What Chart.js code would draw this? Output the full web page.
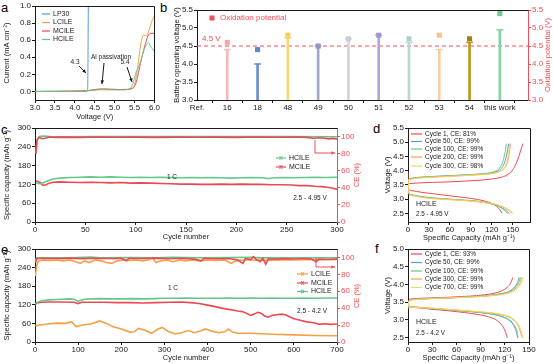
<!DOCTYPE html>
<html>
<head>
<meta charset="utf-8">
<script src="https://cdn.jsdelivr.net/npm/chart.js@4.4.1/dist/chart.umd.min.js"></script>
<style>
  html, body { margin: 0; padding: 0; background: #fff; }
  body { position: relative; width: 553px; height: 364px; overflow: hidden; font-family: "Liberation Sans", Arial, sans-serif; }
  canvas { position: absolute; }
  .panel { position: absolute; font-size: 13px; line-height: 13px; color: #000; }
</style>
</head>
<body>
<div class="panel" style="left:1px;top:1px">a</div>
<div class="panel" style="left:160px;top:1px">b</div>
<div class="panel" style="left:1px;top:123px">c</div>
<div class="panel" style="left:373px;top:122px">d</div>
<div class="panel" style="left:1px;top:243px">e</div>
<div class="panel" style="left:375px;top:242px">f</div>
<canvas id="chartA"></canvas>
<canvas id="chartB"></canvas>
<canvas id="chartC"></canvas>
<canvas id="chartD"></canvas>
<canvas id="chartE"></canvas>
<canvas id="chartF"></canvas>
<script>
// ---------- data: a (LSV, voltage V vs current mA cm-2) ----------
const lsvLP30 = [[3.0,0],[3.5,0.001],[4.0,0.002],[4.25,0.005],[4.32,0.012],[4.33,0.3],[4.34,1.1]];
const lsvLCILE = [[3.0,0],[3.5,0.001],[4.0,0.003],[4.3,0.008],[4.45,0.02],[4.6,0.028],[4.75,0.03],[4.9,0.026],[5.1,0.022],[5.3,0.025],[5.42,0.035],[5.5,0.08],[5.55,0.2],[5.6,0.36],[5.65,0.53],[5.7,0.64],[5.75,0.66],[5.8,0.65],[5.85,0.7],[5.9,0.77],[5.95,0.84],[6.0,0.88]];
const lsvMCILE = [[3.0,0],[4.0,0.003],[4.3,0.008],[4.5,0.02],[4.7,0.028],[4.9,0.025],[5.2,0.022],[5.42,0.03],[5.5,0.06],[5.55,0.12],[5.6,0.22],[5.65,0.33],[5.7,0.43],[5.75,0.52],[5.8,0.6],[5.85,0.66],[5.9,0.68],[6.0,0.68]];
const lsvHCILE = [[3.0,0],[4.0,0.002],[4.3,0.006],[4.5,0.015],[4.7,0.02],[4.9,0.018],[5.2,0.018],[5.38,0.03],[5.45,0.08],[5.5,0.16],[5.55,0.24],[5.6,0.28],[5.65,0.35],[5.7,0.43],[5.75,0.5],[5.8,0.55],[5.85,0.57],[5.9,0.53],[5.95,0.5],[6.0,0.47]];

// ---------- data: b (literature comparison) ----------
const refLabels = ['Ref.', '16', '18', '48', '49', '50', '51', '52', '53', '54', 'this work'];
const operatingVoltage = [4.4, 4.0, 4.72, 4.5, 4.7, 4.8, 4.6, 4.4, 4.6, 4.95];
const oxidationPotential = [4.6, 4.4, 4.8, 4.5, 4.7, 4.8, 4.7, 4.8, 4.7, 5.4];
const thresholdV = 4.5;
const stemColors = ['#f6b9bb', '#6a8fca', '#f7d673', '#a2a4cc', '#d4d4dd', '#aca8dc', '#bcd6d4', '#f9cca2', '#b9971f', '#86d4a6'];
const squareColors = ['#f3a9ac', '#5f87c7', '#f3cf55', '#9093c3', '#cdcdd6', '#9e9ad7', '#aecfcc', '#f8c08b', '#9f820e', '#6dcb95'];

// ---------- data: c (1 C, 2.5-4.95 V) ----------
const cCapHCILE = [[1,125],[3,123],[6,122],[9,126],[13,132],[18,137],[25,140],[35,142],[45,143],[55,144],[65,143],[75,144],[85,143],[95,142],[105,143],[115,142],[125,143],[135,142],[145,141],[155,142],[165,141],[175,142],[185,141],[195,140],[205,141],[215,142],[225,141],[232,139],[238,141],[248,142],[258,141],[268,142],[278,143],[288,142],[300,143]];
const cCapMCILE = [[1,131],[3,129],[5,126],[8,117],[11,119],[14,124],[18,127],[25,128],[35,127],[45,126],[55,127],[65,126],[75,125],[85,126],[95,124],[105,125],[115,124],[125,123],[135,122],[145,121],[155,121],[165,120],[175,120],[185,121],[195,120],[205,121],[215,120],[225,120],[235,119],[245,119],[255,118],[262,116],[270,116],[278,114],[285,113],[292,110],[297,107],[300,104]];
const cCeHCILE = [[1,81],[2,96],[4,100],[8,100.5],[15,100],[30,99.8],[60,100],[100,99.9],[150,100],[200,99.9],[250,100],[300,99.8]];
const cCeMCILE = [[1,80],[2,96],[4,99],[7,97.5],[10,98],[14,99.5],[20,99],[30,99.3],[45,99],[60,99.4],[80,99.1],[100,99.3],[120,99],[140,99.3],[160,99.1],[180,99.3],[200,99],[220,99.4],[240,99.2],[260,99.4],[270,99],[276,98],[282,98.6],[288,98],[292,97.3],[296,97.8],[300,97]];

// ---------- data: d (HCILE, 2.5-4.95 V voltage profiles) ----------
const dCycles = ['Cycle 1, CE: 81%', 'Cycle 50, CE: 99%', 'Cycle 100, CE: 99%', 'Cycle 200, CE: 99%', 'Cycle 300, CE: 98%'];
const dCharge = [
  [[0,3.4],[0.5,3.52],[3,3.55],[15,3.57],[35,3.59],[60,3.61],[85,3.64],[105,3.67],[120,3.71],[132,3.76],[142,3.85],[149,3.99],[154,4.2],[159,4.5],[162,4.75],[165,4.95]],
  [[0,3.3],[0.5,3.65],[3,3.72],[15,3.76],[35,3.79],[60,3.82],[85,3.85],[105,3.88],[120,3.92],[128,3.98],[134,4.08],[138,4.25],[141,4.5],[143,4.75],[144.5,4.95]],
  [[0,3.3],[0.5,3.66],[3,3.73],[15,3.77],[35,3.8],[60,3.83],[85,3.86],[105,3.89],[118,3.93],[126,3.99],[131,4.08],[135,4.25],[138,4.5],[140,4.75],[141,4.95]],
  [[0,3.3],[0.5,3.64],[3,3.71],[15,3.75],[35,3.78],[60,3.81],[85,3.84],[105,3.87],[122,3.91],[131,3.97],[138,4.08],[142,4.25],[144.5,4.5],[146,4.75],[147,4.95]],
  [[0,3.3],[0.5,3.63],[3,3.7],[15,3.74],[35,3.77],[60,3.8],[85,3.83],[105,3.86],[121,3.9],[130,3.96],[137,4.07],[141,4.25],[143.5,4.5],[145,4.75],[146,4.95]]
];
const dDischarge = [
  [[0,3.95],[0.5,3.38],[5,3.3],[20,3.24],[40,3.18],[60,3.12],[80,3.06],[100,2.99],[115,2.9],[124,2.8],[130,2.68],[133,2.58],[135,2.5]],
  [[0,3.6],[0.5,3.26],[5,3.15],[20,3.08],[40,3.03],[60,3.0],[80,2.96],[100,2.92],[115,2.86],[127,2.78],[136,2.68],[141,2.6],[145,2.5]],
  [[0,3.6],[0.5,3.27],[5,3.16],[20,3.09],[40,3.04],[60,3.0],[80,2.97],[100,2.93],[114,2.87],[126,2.79],[134,2.69],[139,2.6],[143,2.5]],
  [[0,3.6],[0.5,3.25],[5,3.14],[20,3.07],[40,3.02],[60,2.99],[80,2.96],[100,2.92],[118,2.86],[131,2.78],[140,2.68],[145,2.6],[149,2.5]],
  [[0,3.6],[0.5,3.24],[5,3.13],[20,3.06],[40,3.01],[60,2.98],[80,2.95],[100,2.91],[119,2.85],[133,2.77],[142,2.67],[147,2.59],[151,2.5]]
];

// ---------- data: e (1 C, 2.5-4.2 V) ----------
const eCapLCILE = [[1,52],[10,55],[30,58],[50,61],[70,60],[85,65],[95,50],[110,55],[130,58],[150,68],[165,60],[180,50],[200,42],[220,32],[230,33],[240,44],[255,38],[270,28],[285,42],[295,47],[310,33],[325,26],[340,30],[355,37],[370,30],[385,36],[395,42],[410,35],[425,30],[440,33],[448,42],[458,32],[470,28],[500,28],[550,25],[600,23],[650,21],[700,20]];
const eCapMCILE = [[1,122],[5,126],[15,128],[30,129],[60,129],[90,128],[100,124],[108,128],[130,128],[160,128],[190,127],[220,127],[250,126],[280,127],[310,128],[340,129],[360,127],[380,124],[400,119],[415,115],[430,110],[445,106],[458,103],[470,100],[480,98],[490,93],[500,86],[508,90],[516,96],[524,93],[532,84],[540,80],[550,86],[560,88],[572,90],[582,87],[592,80],[602,74],[615,70],[630,65],[645,62],[660,57],[672,59],[685,57],[700,58]];
const eCapHCILE = [[1,122],[4,127],[10,131],[20,134],[35,136],[50,137],[65,138],[80,139],[92,137],[100,131],[106,135],[115,138],[130,139],[150,140],[175,139],[200,139],[225,140],[250,139],[275,140],[300,141],[325,141],[350,142],[375,141],[400,141],[425,141],[450,142],[475,141],[500,142],[525,141],[550,142],[575,141],[600,141],[625,142],[650,141],[675,142],[700,142]];
const eCeLCILE = [[1,78],[3,88],[6,94],[10,96],[20,97],[35,96.5],[50,97],[65,96],[80,97],[95,95],[105,93],[115,96],[125,94],[140,97],[155,96],[165,94],[178,93],[190,96],[205,97],[220,96.5],[235,97],[250,96],[262,97],[272,100],[280,94],[292,96],[305,97],[320,95],[335,97],[350,96],[365,97],[380,96],[400,97],[420,96.5],[440,97],[455,93],[465,96],[480,97],[500,97],[530,96.5],[560,97],[600,97],[650,97.5],[700,97.5]];
const eCeMCILE = [[1,94],[4,98.5],[20,99],[50,98.8],[80,99.2],[110,98.6],[140,99],[170,98.8],[200,99],[212,96],[218,99],[250,98.8],[280,99.2],[310,98.5],[340,99],[370,98],[385,96],[392,99],[420,98.5],[450,98.8],[470,97],[482,93],[488,98.5],[500,97.5],[506,101],[512,98],[522,95],[528,99],[535,92],[541,98.5],[560,98],[580,98.6],[600,98.2],[620,98.8],[640,98],[652,95],[658,98],[675,97.5],[700,98]];
const eCeHCILE = [[1,96],[4,99.5],[30,99.7],[80,99.5],[130,100.5],[150,99.6],[220,99.8],[280,99.5],[320,100.3],[380,99.6],[450,99.8],[500,100.2],[520,99.5],[580,99.7],[640,99.5],[700,99.7]];

// ---------- data: f (HCILE, 2.5-4.2 V voltage profiles) ----------
const fCycles = ['Cycle 1, CE: 93%', 'Cycle 50, CE: 99%', 'Cycle 100, CE: 99%', 'Cycle 300, CE: 99%', 'Cycle 700, CE: 99%'];
const fCharge = [
  [[0,3.3],[0.5,3.52],[2,3.58],[8,3.6],[25,3.62],[50,3.64],[75,3.67],[95,3.71],[108,3.76],[117,3.83],[123,3.92],[127,4.03],[130,4.2]],
  [[0,3.35],[0.5,3.5],[2,3.56],[8,3.58],[25,3.6],[50,3.62],[75,3.65],[100,3.69],[115,3.74],[125,3.8],[131,3.9],[135,4.02],[138,4.2]],
  [[0,3.35],[0.5,3.49],[2,3.55],[8,3.58],[25,3.6],[50,3.62],[75,3.65],[100,3.69],[116,3.74],[126,3.8],[132,3.9],[136.5,4.02],[139.5,4.2]],
  [[0,3.36],[0.5,3.48],[2,3.55],[8,3.58],[25,3.6],[50,3.62],[75,3.65],[100,3.68],[118,3.73],[128,3.8],[134,3.9],[138.5,4.02],[141,4.2]],
  [[0,3.38],[0.5,3.48],[2,3.54],[8,3.57],[25,3.6],[50,3.62],[75,3.64],[100,3.68],[120,3.73],[130,3.8],[136,3.9],[140.5,4.02],[143,4.2]]
];
const fDischarge = [
  [[0,3.42],[2,3.37],[10,3.35],[30,3.3],[50,3.26],[70,3.21],[88,3.15],[100,3.09],[108,3.02],[114,2.92],[118,2.8],[121,2.65],[123,2.5]],
  [[0,3.45],[2,3.38],[10,3.36],[30,3.32],[55,3.28],[80,3.23],[100,3.18],[113,3.12],[122,3.04],[128,2.94],[132,2.8],[134.5,2.65],[136,2.5]],
  [[0,3.44],[2,3.38],[10,3.36],[30,3.32],[55,3.28],[80,3.23],[100,3.18],[114,3.12],[123,3.04],[129,2.94],[133,2.8],[135.5,2.65],[136.5,2.5]],
  [[0,3.42],[2,3.38],[10,3.36],[30,3.33],[55,3.29],[80,3.24],[100,3.2],[117,3.14],[127,3.06],[133,2.95],[137,2.82],[139.5,2.66],[141.5,2.5]],
  [[0,3.4],[2,3.37],[10,3.35],[30,3.33],[55,3.29],[80,3.25],[100,3.21],[118,3.15],[128,3.07],[134,2.96],[138,2.83],[140.5,2.67],[142.5,2.5]]
];

// ---------- colours ----------
const RED_AXIS = '#ee4f58';
const cBlue = '#5b9bd5', cOrange = '#f5a047', cRed = '#ec4a52', cGreen = '#63c98b', cYellow = '#f5d565';
const profileColors = [cRed, cBlue, cGreen, cOrange, cYellow];

// ---------- helpers ----------
Chart.defaults.font.family = "'Liberation Sans', Arial, sans-serif";
Chart.defaults.font.size = 8;
Chart.defaults.color = '#1a1a1a';
Chart.defaults.animation = false;
Chart.defaults.plugins.legend.display = false;
Chart.defaults.plugins.tooltip.enabled = false;
Chart.defaults.elements.point.radius = 0;

const pts = arr => arr.map(([x, y]) => ({x, y}));

function place(id, cx, cy, cw, ch, area) {
  const c = document.getElementById(id);
  c.width = cw; c.height = ch;
  c.style.left = cx + 'px'; c.style.top = cy + 'px';
  return {
    canvas: c, origin: [cx, cy],
    padding: {top: area.top - cy, left: 0, bottom: 0, right: area.rightAxis ? 0 : cx + cw - area.right},
    leftW: area.left - cx,
    rightW: cx + cw - area.right,
    bottomH: cy + ch - area.bottom
  };
}

function axis(pos, min, max, ticks, size, o = {}) {
  const col = o.color || '#1a1a1a';
  const horiz = pos === 'bottom' || pos === 'top';
  return {
    type: 'linear', position: pos, min, max, offset: false,
    afterBuildTicks: s => { s.ticks = ticks.map(value => ({value})); },
    afterFit: s => { if (horiz) s.height = size; else s.width = size; },
    grid: {drawOnChartArea: false, drawTicks: true, tickLength: 3, color: col, lineWidth: 1},
    border: {color: col, width: 1},
    ticks: {color: col, font: {size: 8}, padding: o.pad ?? 1, autoSkip: false, maxRotation: 0, minRotation: 0,
            callback: o.fmt || (v => v)},
    title: o.title ? {display: true, text: o.title, color: col, font: {size: 7.5},
                      padding: {top: o.tp || 0, bottom: o.tp || 0}} : {display: false}
  };
}

function curve(label, arr, color, extra) {
  return Object.assign({type: 'line', label, data: pts(arr), borderColor: color, backgroundColor: color,
    borderWidth: 1, pointRadius: 0, fill: false, cubicInterpolationMode: 'monotone'}, extra || {});
}

function framePlugin(withRight) {
  return {
    id: 'frame',
    afterDatasetsDraw(chart) {
      const {ctx, chartArea: a} = chart;
      ctx.save();
      ctx.strokeStyle = '#1a1a1a'; ctx.lineWidth = 1;
      ctx.beginPath();
      const t = Math.round(a.top) + 0.5, r = Math.round(a.right) + 0.5;
      ctx.moveTo(Math.round(a.left), t); ctx.lineTo(r, t);
      if (withRight) ctx.lineTo(r, Math.round(a.bottom));
      ctx.stroke();
      ctx.restore();
    }
  };
}

function drawArrow(ctx, path, color, w) {
  ctx.strokeStyle = color; ctx.fillStyle = color; ctx.lineWidth = w || 1;
  ctx.beginPath();
  path.forEach(([x, y], i) => i ? ctx.lineTo(x, y) : ctx.moveTo(x, y));
  const [x1, y1] = path[path.length - 2], [x2, y2] = path[path.length - 1];
  const ang = Math.atan2(y2 - y1, x2 - x1);
  ctx.stroke();
  ctx.beginPath();
  ctx.moveTo(x2, y2);
  ctx.lineTo(x2 - 4 * Math.cos(ang - 0.45), y2 - 4 * Math.sin(ang - 0.45));
  ctx.lineTo(x2 - 4 * Math.cos(ang + 0.45), y2 - 4 * Math.sin(ang + 0.45));
  ctx.closePath(); ctx.fill();
}

function notesPlugin(origin, items) {
  return {
    id: 'notes',
    afterDraw(chart) {
      const ctx = chart.ctx;
      ctx.save();
      ctx.translate(-origin[0], -origin[1]);
      items.forEach(it => {
        if (it.t === 'text') {
          ctx.save();
          ctx.font = (it.size || 7) + "px 'Liberation Sans', Arial, sans-serif";
          ctx.fillStyle = it.color || '#1a1a1a';
          ctx.textAlign = it.align || 'left'; ctx.textBaseline = 'middle';
          ctx.translate(it.x, it.y);
          if (it.rot) ctx.rotate(it.rot);
          ctx.fillText(it.text, 0, 0);
          ctx.restore();
        } else if (it.t === 'arrow') {
          drawArrow(ctx, it.path, it.color || '#1a1a1a', it.w);
        } else if (it.t === 'key') {
          ctx.strokeStyle = it.color; ctx.lineWidth = it.w || 1.2;
          ctx.beginPath(); ctx.moveTo(it.x1, it.y); ctx.lineTo(it.x2, it.y); ctx.stroke();
          if (it.mark) {
            const m = (it.x1 + it.x2) / 2;
            ctx.beginPath(); ctx.moveTo(m - 1.5, it.y - 1.5); ctx.lineTo(m + 1.5, it.y + 1.5);
            ctx.moveTo(m - 1.5, it.y + 1.5); ctx.lineTo(m + 1.5, it.y - 1.5); ctx.stroke();
          }
          ctx.font = (it.size || 7) + "px 'Liberation Sans', Arial, sans-serif";
          ctx.fillStyle = '#1a1a1a'; ctx.textAlign = 'left'; ctx.textBaseline = 'middle';
          ctx.fillText(it.text, it.x2 + 3, it.y);
        } else if (it.t === 'square') {
          ctx.fillStyle = it.color;
          ctx.fillRect(it.x - it.s / 2, it.y - it.s / 2, it.s, it.s);
        }
      });
      ctx.restore();
    }
  };
}

const baseOpts = {responsive: false, maintainAspectRatio: false, devicePixelRatio: 1};
const fmt1 = v => v.toFixed(1);

// ---------- a ----------
const A = place('chartA', 0, 0, 160, 122, {left: 35, right: 155, top: 6, bottom: 100});
new Chart(A.canvas, {
  type: 'line',
  data: {datasets: [
    curve('HCILE', lsvHCILE, cGreen),
    curve('MCILE', lsvMCILE, cRed),
    curve('LCILE', lsvLCILE, cOrange),
    curve('LP30', lsvLP30, cBlue)
  ]},
  options: Object.assign({}, baseOpts, {
    layout: {padding: A.padding},
    scales: {
      x: axis('bottom', 3, 6, [3, 3.5, 4, 4.5, 5, 5.5, 6], A.bottomH, {fmt: fmt1, title: 'Voltage (V)', tp: 0.5, pad: 0}),
      y: axis('left', -0.1, 1.0, [0, 0.2, 0.4, 0.6, 0.8, 1.0], A.leftW, {fmt: fmt1, title: 'Current (mA cm\u207B\u00B2)', tp: 2.5})
    }
  }),
  plugins: [framePlugin(true), notesPlugin(A.origin, [
    {t: 'key', x1: 42, x2: 50, y: 14, color: cBlue, text: 'LP30'},
    {t: 'key', x1: 42, x2: 50, y: 22.5, color: cOrange, text: 'LCILE'},
    {t: 'key', x1: 42, x2: 50, y: 31, color: cRed, text: 'MCILE'},
    {t: 'key', x1: 42, x2: 50, y: 39.5, color: cGreen, text: 'HCILE'},
    {t: 'text', text: '4.3', x: 75, y: 62, size: 6.5, align: 'center'},
    {t: 'arrow', path: [[79, 66], [86, 73]]},
    {t: 'text', text: 'Al passivation', x: 111, y: 57, size: 6.5, align: 'center'},
    {t: 'arrow', path: [[104, 63], [102, 84]]},
    {t: 'text', text: '5.4', x: 125, y: 62, size: 6.5, align: 'center'},
    {t: 'arrow', path: [[127, 67], [132, 82]]}
  ])]
});

// ---------- b ----------
const B = place('chartB', 168, 0, 385, 115, {left: 197, right: 528, top: 10, bottom: 100, rightAxis: true});
new Chart(B.canvas, {
  type: 'bar',
  data: {datasets: [
    {type: 'line', label: 'Oxidation potential', yAxisID: 'y2', showLine: false,
     data: oxidationPotential.map((v, i) => ({x: i + 1, y: v})),
     pointStyle: 'rect', pointRadius: 3.6, pointBorderWidth: 0, pointBackgroundColor: squareColors},
    {type: 'line', label: 'cap', yAxisID: 'y', showLine: false,
     data: operatingVoltage.map((v, i) => ({x: i + 1, y: v})),
     pointStyle: 'line', pointRadius: 3.5, pointBorderWidth: 1.5, pointBorderColor: stemColors},
    {type: 'bar', label: 'Battery operating voltage', yAxisID: 'y',
     data: operatingVoltage.map((v, i) => ({x: i + 1, y: [3.0, v]})),
     backgroundColor: stemColors, barThickness: 2},
    {type: 'line', label: '4.5 V', yAxisID: 'y', data: [{x: 0, y: thresholdV}, {x: 10.93, y: thresholdV}],
     borderColor: RED_AXIS, borderWidth: 1, borderDash: [4, 3], pointRadius: 0}
  ]},
  options: Object.assign({}, baseOpts, {
    layout: {padding: B.padding},
    scales: {
      x: axis('bottom', 0, 10.93, refLabels.map((_, i) => i), B.bottomH, {fmt: v => refLabels[v], pad: 0}),
      y: axis('left', 3.0, 5.5, [3.0, 3.5, 4.0, 4.5, 5.0, 5.5], B.leftW, {fmt: fmt1, title: 'Battery operating voltage (V)', tp: 4.5}),
      y2: axis('right', 3.0, 5.5, [3.0, 3.5, 4.0, 4.5, 5.0, 5.5], B.rightW, {fmt: fmt1, color: RED_AXIS})
    }
  }),
  plugins: [framePlugin(false), notesPlugin(B.origin, [
    {t: 'square', x: 212, y: 18, s: 5, color: RED_AXIS},
    {t: 'text', text: 'Oxidation potential', x: 220, y: 18, size: 8, color: RED_AXIS},
    {t: 'text', text: '4.5 V', x: 202, y: 39, size: 8, color: RED_AXIS},
    {t: 'text', text: 'Oxidation potential (V)', x: 548, y: 55, size: 7.5, color: RED_AXIS, align: 'center', rot: -Math.PI / 2}
  ])]
});

// ---------- c ----------
const C = place('chartC', 0, 118, 362, 125, {left: 35, right: 337, top: 128, bottom: 222, rightAxis: true});
new Chart(C.canvas, {
  type: 'line',
  data: {datasets: [
    curve('MCILE CE', cCeMCILE, cRed, {yAxisID: 'y2', borderWidth: 1.6, cubicInterpolationMode: 'default', tension: 0}),
    curve('HCILE CE', cCeHCILE, cGreen, {yAxisID: 'y2', borderWidth: 1.6, cubicInterpolationMode: 'default', tension: 0}),
    curve('HCILE', cCapHCILE, cGreen, {borderWidth: 1.6, cubicInterpolationMode: 'default', tension: 0}),
    curve('MCILE', cCapMCILE, cRed, {borderWidth: 1.6, cubicInterpolationMode: 'default', tension: 0})
  ]},
  options: Object.assign({}, baseOpts, {
    layout: {padding: C.padding},
    scales: {
      x: axis('bottom', 0, 300, [0, 50, 100, 150, 200, 250, 300], C.bottomH, {title: 'Cycle number', tp: 1.5, pad: 0}),
      y: axis('left', 0, 300, [0, 60, 120, 180, 240, 300], C.leftW, {title: 'Specific capacity (mAh g\u207B\u00B9)', tp: 2.8}),
      y2: axis('right', 0, 110, [0, 20, 40, 60, 80, 100], C.rightW, {color: RED_AXIS})
    }
  }),
  plugins: [framePlugin(false), notesPlugin(C.origin, [
    {t: 'key', x1: 276, x2: 286, y: 158, color: cGreen, text: 'HCILE', mark: true},
    {t: 'key', x1: 276, x2: 286, y: 167, color: cRed, text: 'MCILE', mark: true},
    {t: 'text', text: '1 C', x: 172, y: 177, size: 6.5, align: 'center'},
    {t: 'text', text: '2.5 - 4.95 V', x: 310, y: 198, size: 6.5, align: 'center'},
    {t: 'arrow', path: [[315, 140], [315, 153], [335, 153]], color: RED_AXIS},
    {t: 'text', text: 'CE (%)', x: 357, y: 175, size: 7.5, color: RED_AXIS, align: 'center', rot: -Math.PI / 2}
  ])]
});

// ---------- d ----------
function profileSets(charge, discharge, labels) {
  const sets = [];
  labels.forEach((lab, i) => {
    sets.push(curve(lab, charge[i], profileColors[i]));
    sets.push(curve(lab + ' dis', discharge[i], profileColors[i]));
  });
  return sets.reverse();
}
const D = place('chartD', 383, 118, 170, 125, {left: 408, right: 530, top: 128, bottom: 222});
new Chart(D.canvas, {
  type: 'line',
  data: {datasets: profileSets(dCharge, dDischarge, dCycles)},
  options: Object.assign({}, baseOpts, {
    layout: {padding: D.padding},
    scales: {
      x: axis('bottom', 0, 175, [0, 30, 60, 90, 120, 150], D.bottomH, {title: 'Specific Capacity (mAh g\u207B\u00B9)', tp: 1, pad: 0}),
      y: axis('left', 2.2, 5.5, [2.5, 3.0, 3.5, 4.0, 4.5, 5.0, 5.5], D.leftW, {fmt: fmt1, title: 'Voltage (V)', tp: 0.5})
    }
  }),
  plugins: [framePlugin(true), notesPlugin(D.origin, [
    ...dCycles.map((lab, i) => ({t: 'key', x1: 411, x2: 422, y: [134, 141.5, 149, 157, 166][i], color: profileColors[i], text: lab, size: 6.5})),
    {t: 'text', text: 'HCILE', x: 416, y: 204, size: 7},
    {t: 'text', text: '2.5 - 4.95 V', x: 416, y: 214, size: 6.3}
  ])]
});

// ---------- e ----------
const E = place('chartE', 0, 243, 362, 121, {left: 35, right: 337, top: 249, bottom: 342, rightAxis: true});
const flat = {borderWidth: 1.6, cubicInterpolationMode: 'default', tension: 0};
new Chart(E.canvas, {
  type: 'line',
  data: {datasets: [
    curve('MCILE CE', eCeMCILE, cRed, Object.assign({yAxisID: 'y2'}, flat)),
    curve('HCILE CE', eCeHCILE, cGreen, Object.assign({yAxisID: 'y2'}, flat)),
    curve('LCILE CE', eCeLCILE, cOrange, Object.assign({yAxisID: 'y2'}, flat)),
    curve('HCILE', eCapHCILE, cGreen, flat),
    curve('MCILE', eCapMCILE, cRed, flat),
    curve('LCILE', eCapLCILE, cOrange, flat)
  ]},
  options: Object.assign({}, baseOpts, {
    layout: {padding: E.padding},
    scales: {
      x: axis('bottom', 0, 700, [0, 100, 200, 300, 400, 500, 600, 700], E.bottomH, {title: 'Cycle number', tp: 1.5, pad: 0}),
      y: axis('left', 0, 300, [0, 60, 120, 180, 240, 300], E.leftW, {title: 'Specific capacity (mAh g\u207B\u00B9)', tp: 2.8}),
      y2: axis('right', 0, 110, [0, 20, 40, 60, 80, 100], E.rightW, {color: RED_AXIS})
    }
  }),
  plugins: [framePlugin(false), notesPlugin(E.origin, [
    {t: 'key', x1: 297, x2: 308, y: 274, color: cOrange, text: 'LCILE', mark: true},
    {t: 'key', x1: 297, x2: 308, y: 283, color: cRed, text: 'MCILE', mark: true},
    {t: 'key', x1: 297, x2: 308, y: 291.5, color: cGreen, text: 'HCILE', mark: true},
    {t: 'text', text: '1 C', x: 173, y: 288, size: 6.5, align: 'center'},
    {t: 'text', text: '2.5 - 4.2 V', x: 312, y: 311, size: 6.5, align: 'center'},
    {t: 'arrow', path: [[316, 258], [316, 267], [335, 267]], color: RED_AXIS},
    {t: 'text', text: 'CE (%)', x: 357, y: 296, size: 7.5, color: RED_AXIS, align: 'center', rot: -Math.PI / 2}
  ])]
});

// ---------- f ----------
const F = place('chartF', 383, 243, 170, 121, {left: 408, right: 529, top: 249, bottom: 342});
new Chart(F.canvas, {
  type: 'line',
  data: {datasets: profileSets(fCharge, fDischarge, fCycles)},
  options: Object.assign({}, baseOpts, {
    layout: {padding: F.padding},
    scales: {
      x: axis('bottom', 0, 150, [0, 30, 60, 90, 120, 150], F.bottomH, {title: 'Specific Capacity (mAh g\u207B\u00B9)', tp: 1.5, pad: 0}),
      y: axis('left', 2.38, 5.0, [2.5, 3.0, 3.5, 4.0, 4.5, 5.0], F.leftW, {fmt: fmt1, title: 'Voltage (V)', tp: 0.5})
    }
  }),
  plugins: [framePlugin(true), notesPlugin(F.origin, [
    ...fCycles.map((lab, i) => ({t: 'key', x1: 411, x2: 422, y: [254, 262.5, 271, 279, 287.5][i], color: profileColors[i], text: lab, size: 6.5})),
    {t: 'text', text: 'HCILE', x: 416, y: 322, size: 7},
    {t: 'text', text: '2.5 - 4.2 V', x: 416, y: 333, size: 6.3}
  ])]
});
</script>
</body>
</html>
